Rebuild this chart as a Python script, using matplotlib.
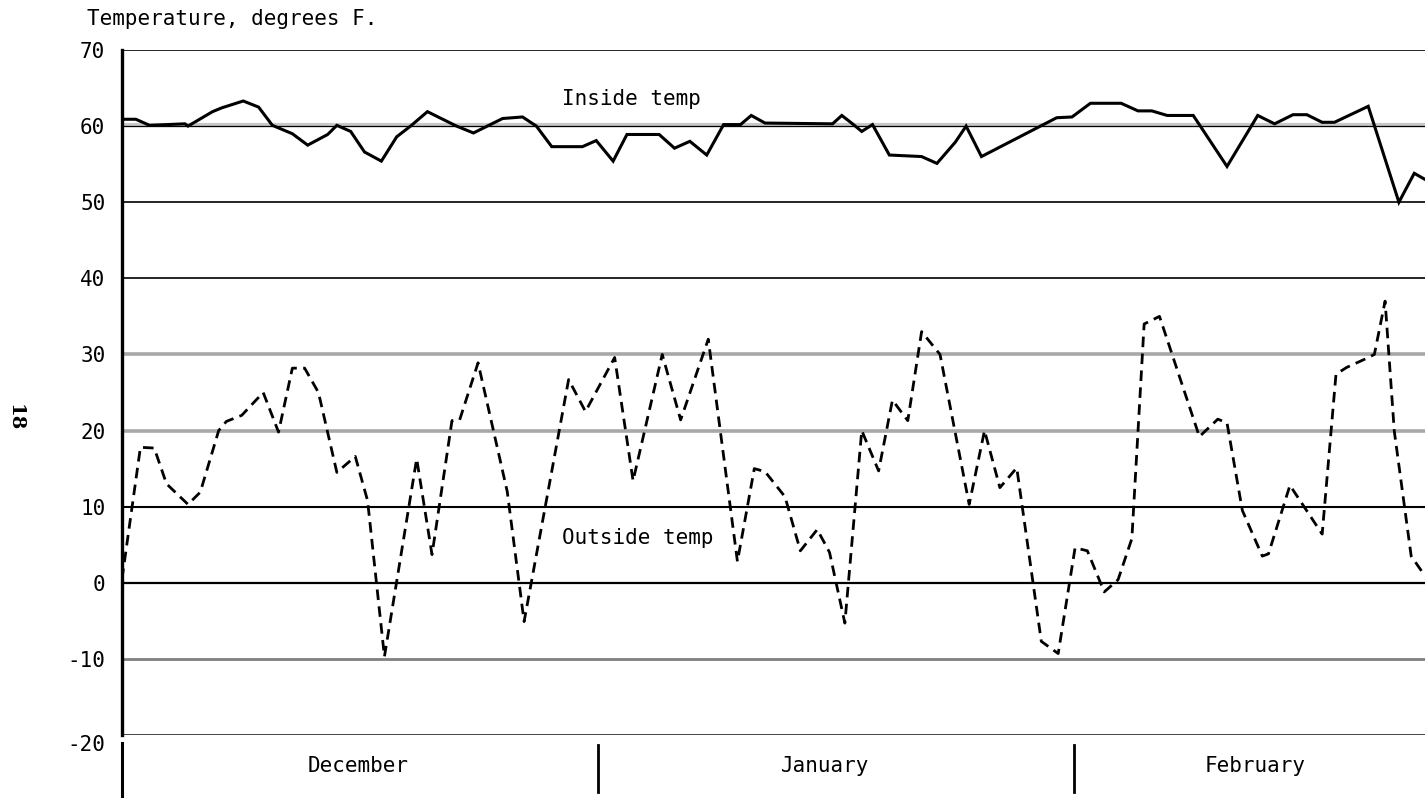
import numpy as np
import matplotlib
matplotlib.use("Agg")
import matplotlib.pyplot as plt
import matplotlib.transforms as mtransforms

# days counted from 1 December; temperatures in degrees F
out_day = [0.0, 1.2, 2.1, 2.9, 4.3, 5.1, 6.3, 6.8, 7.8, 9.2, 10.2, 11.1, 11.9, 12.8,
           14.0, 15.2, 16.0, 17.1, 19.2, 20.2, 21.5, 22.0, 23.2, 25.1, 26.2, 29.1,
           30.2, 32.1, 33.3, 35.2, 36.4, 38.2, 40.1, 41.2, 41.9, 43.2, 44.2, 45.3,
           46.1, 47.1, 48.2, 49.3, 50.2, 51.2, 52.1, 53.3, 55.2, 56.2, 57.2, 58.3,
           59.9, 61.0, 62.1, 62.9, 64.0, 64.9, 65.8, 66.6, 67.6, 70.2, 71.4, 72.0,
           73.0, 74.3, 74.7, 76.1, 78.2, 79.1, 79.8, 81.0, 81.6, 82.3, 82.9, 84.0, 84.9]
out_temp = [0.5, 17.8, 17.7, 13, 10.3, 11.9, 20, 21.2, 22, 25, 19.8, 28.2, 28.2, 25,
            14.5, 16.6, 10.8, -9.7, 16.3, 3.7, 21.3, 21.4, 28.9, 12, -5.1, 26.7,
            22.5, 29.6, 13.4, 30, 21.4, 32, 2.8, 15, 14.6, 11.3, 4.2, 7,
            4, -5.3, 20, 14.7, 24, 21.3, 33, 30, 10.3, 20, 12.5, 15.1,
            -7.7, -9.3, 4.6, 4.2, -1.2, 0.4, 5.8, 34, 35, 19.2, 21.5, 21,
            9.5, 3.5, 3.8, 12.8, 6.4, 27.4, 28.3, 29.4, 30, 37, 19.9, 3.5, 0.9]

in_day = [0.0, 0.9, 1.8, 4.1, 4.3, 5.9, 6.5, 7.9, 8.9, 9.8, 11.1, 12.1, 13.4, 14.0,
          14.9, 15.8, 16.9, 17.9, 18.8, 19.9, 21.8, 22.9, 24.8, 26.1, 27.0, 28.0,
          30.0, 30.9, 32.0, 32.9, 35.0, 36.0, 37.0, 38.1, 39.2, 40.3, 41.0, 41.9,
          46.3, 46.9, 47.6, 48.2, 48.9, 50.0, 52.1, 53.1, 54.3, 55.0, 56.0, 60.9,
          61.9, 63.1, 65.1, 66.2, 67.1, 68.1, 69.8, 72.0, 74.0, 75.1, 76.3, 77.2,
          78.2, 79.0, 81.2, 83.2, 84.2, 84.9]
in_temp = [60.9, 60.9, 60.1, 60.3, 60.0, 61.9, 62.4, 63.3, 62.5, 60.1, 59, 57.5, 58.9, 60.1,
           59.3, 56.6, 55.4, 58.6, 60, 61.9, 60, 59.1, 61, 61.2, 60, 57.3,
           57.3, 58.1, 55.4, 58.9, 58.9, 57.1, 58, 56.2, 60.2, 60.2, 61.4, 60.4,
           60.3, 61.4, 60.3, 59.3, 60.2, 56.2, 56, 55.1, 57.9, 60, 56, 61.1,
           61.2, 63, 63, 62, 62, 61.4, 61.4, 54.7, 61.4, 60.3, 61.5, 61.5,
           60.5, 60.5, 62.6, 50, 53.8, 53]

yticks = [70, 60, 50, 40, 30, 20, 10, 0, -10, -20]
months = ["December", "January", "February"]
month_mid = [15.4, 45.8, 73.8]
month_breaks = [31, 62]

mono = "DejaVu Sans Mono"
fs = 15

fig = plt.figure(figsize=(14.25, 7.98), dpi=100)
ax = fig.add_axes([122 / 1425, 1 - 735 / 798, 1 - 122 / 1425, 685 / 798])
ax.set_xlim(0, 84.9)
ax.set_ylim(-20, 70)

# horizontal rules, some printed grey in the original
grid_style = {70: ("black", 1.2), 60: ("black", 0.9), 50: ("black", 1.2), 40: ("black", 1.2),
              30: ("#a8a8a8", 2.6), 20: ("#a8a8a8", 2.6), 10: ("black", 1.5),
              0: ("black", 1.6), -10: ("#808080", 2.0), -20: ("#333333", 2.0)}
ax.axhline(60.2, color="#c8c8c8", lw=3, zorder=1)
for v in yticks:
    c, w = grid_style[v]
    ax.axhline(v, color=c, lw=w, zorder=2)

ax.plot(in_day, in_temp, color="black", lw=2.2, solid_joinstyle="miter", zorder=4)
ax.plot(out_day, out_temp, color="black", lw=2.0, dashes=(3.8, 2.3), zorder=4)

ax.text(28.65, 63.6, "Inside temp", family=mono, fontsize=fs, va="center", ha="left")
ax.text(28.65, 5.9, "Outside temp", family=mono, fontsize=fs, va="center", ha="left")

for s in ["top", "right", "bottom"]:
    ax.spines[s].set_visible(False)
ax.spines["left"].set_linewidth(2.4)
ax.set_xticks([])
ax.set_yticks(yticks)
ax.set_yticklabels([str(v) for v in yticks], family=mono, fontsize=fs)
ax.tick_params(axis="y", length=0, pad=12)
# the bottom label sits a little low in the original
low = ax.get_yticklabels()[-1]
low.set_transform(low.get_transform() + mtransforms.ScaledTranslation(0, -8 / 100, fig.dpi_scale_trans))

# month strip under the chart
trans = mtransforms.blended_transform_factory(ax.transData, ax.transAxes)
ax.plot([0, 0], [-0.012, -0.1], transform=trans, color="black", lw=2.2, clip_on=False)
for b in month_breaks:
    ax.plot([b, b], [-0.015, -0.083], transform=trans, color="black", lw=2.0, clip_on=False)
for m, x in zip(months, month_mid):
    ax.text(x, -0.045, m, transform=trans, family=mono, fontsize=fs, ha="center", va="center")

fig.text(87 / 1425, 1 - 19 / 798, "Temperature, degrees F.", family=mono, fontsize=fs,
         ha="left", va="center")
fig.text(15 / 1425, 1 - 418 / 798, "18", family="DejaVu Serif", fontweight="bold",
         fontsize=14, rotation=-90, ha="center", va="center")

fig.savefig("out.png", dpi=100)
